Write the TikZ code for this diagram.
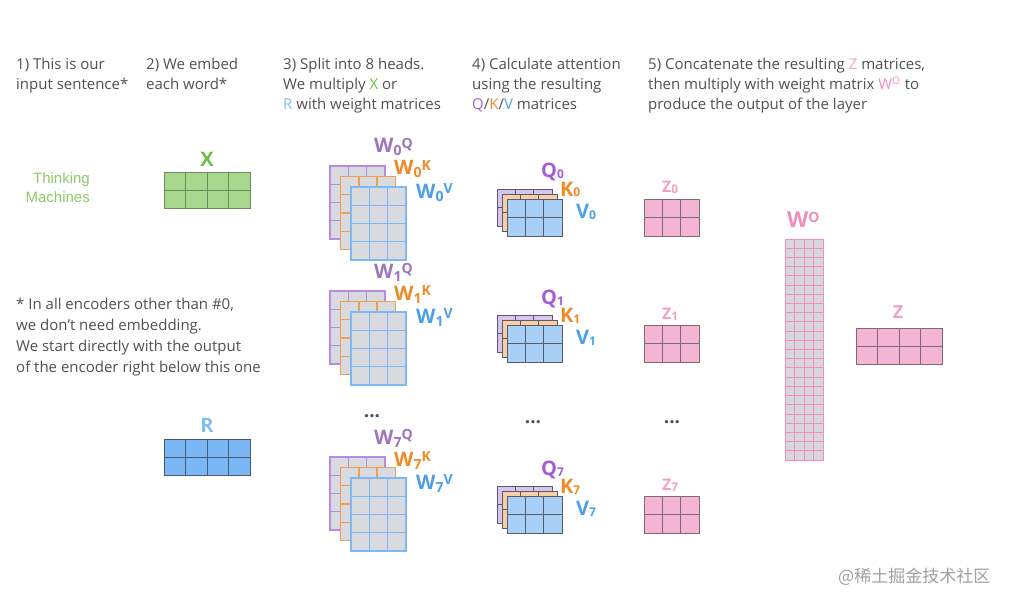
\documentclass[tikz,border=0pt]{standalone}
\usepackage{fontspec}
\setmainfont{Open Sans}
\newfontfamily\helv{Liberation Sans}
\newfontfamily\cjk{Noto Sans CJK SC}
\definecolor{textgray}{HTML}{505050}
\definecolor{xgreen}{HTML}{6DBE45}
\definecolor{thinkgreen}{HTML}{8CCB68}
\definecolor{xfill}{HTML}{A6D78C}
\definecolor{xline}{HTML}{6E8A60}
\definecolor{rfill}{HTML}{7AB6F4}
\definecolor{rline}{HTML}{4A5A70}
\definecolor{rlab}{HTML}{82BDF0}
\definecolor{wfill}{HTML}{D8DADF}
\definecolor{wpur}{HTML}{B88AE0}
\definecolor{worg}{HTML}{F0A04C}
\definecolor{wblu}{HTML}{7DB8F2}
\definecolor{qpur}{HTML}{A25ED8}
\definecolor{korg}{HTML}{F08A24}
\definecolor{vblu}{HTML}{4B9FEA}
\definecolor{qfillp}{HTML}{D8C5EF}
\definecolor{qfillo}{HTML}{F7CFA3}
\definecolor{qfillb}{HTML}{A8D0F6}
\definecolor{qline}{HTML}{5A5A6A}
\definecolor{zfill}{HTML}{F3B5D3}
\definecolor{zline}{HTML}{7A6A72}
\definecolor{zlab}{HTML}{F0A2C6}
\definecolor{wolab}{HTML}{EE8EBF}
\definecolor{woline}{HTML}{F28DBF}
\definecolor{wofill}{HTML}{D8D8DC}
\tikzset{
  txt/.style={anchor=base west, inner sep=0pt, text=textgray, font=\fontsize{15}{20}\selectfont},
  lbl/.style={anchor=base west, inner sep=0pt, font=\bfseries\fontsize{20}{20}\selectfont},
  zlbl/.style={anchor=base west, inner sep=0pt, text=zlab, font=\bfseries\fontsize{16}{16}\selectfont},
  dotsn/.style={inner sep=0pt, text=textgray, font=\bfseries\fontsize{19}{19}\selectfont},
  mat/.style={inner sep=0pt, outer sep=0pt},
  wpl/.style={draw=wpur, line width=1.4pt},
  wol/.style={draw=worg, line width=1.4pt},
  wbl/.style={draw=wblu, line width=1.4pt},
  dkl/.style={draw=qline, line width=0.8pt},
  xl/.style={draw=xline, line width=0.8pt},
  rl/.style={draw=rline, line width=0.8pt},
  zl/.style={draw=zline, line width=0.8pt},
  wol2/.style={draw=woline, line width=0.9pt},
}
% name, x, y, w, h, cols, rows, fill, line style
\newcommand\mtx[9]{%
  \node[mat, fill=#8, #9, minimum width=#4pt, minimum height=#5pt] (#1) at ({#2+#4/2},{#3+#5/2}) {};
  \foreach \k in {1,...,#6} {\ifnum\k<#6\relax \draw[#9] ({#2+\k*#4/#6},#3) -- ++(0,#5);\fi}
  \foreach \k in {1,...,#7} {\ifnum\k<#7\relax \draw[#9] (#2,{#3+\k*#5/#7}) -- ++(#4,0);\fi}
}
\newcommand\wsub[1]{\raisebox{-3pt}{\fontsize{14}{14}\selectfont #1}}
\newcommand\wsup[1]{\raisebox{4.5pt}{\fontsize{14}{14}\selectfont #1}}
\newcommand\qsub[1]{\raisebox{-1pt}{\fontsize{12}{12}\selectfont #1}}
\begin{document}
\begin{tikzpicture}[x=1pt,y=-1pt]
\useasboundingbox (0,0) rectangle (1016,604);
% headers
\node[txt] (h1) at (16,70) {\begin{tabular}[t]{@{}l@{}}1) This is our\\input sentence*\end{tabular}};
\node[txt] (h2) at (146,70) {\begin{tabular}[t]{@{}l@{}}2) We embed\\each word*\end{tabular}};
\node[txt] (h3) at (283,70) {\begin{tabular}[t]{@{}l@{}}3) Split into 8 heads.\\We multiply \textcolor{xgreen}{X} or\\\textcolor{rlab}{R} with weight matrices\end{tabular}};
\node[txt] (h4) at (472,70) {\begin{tabular}[t]{@{}l@{}}4) Calculate attention\\using the resulting\\\textcolor{qpur}{Q}/\textcolor{korg}{K}/\textcolor{vblu}{V} matrices\end{tabular}};
\node[txt] (h5) at (648,70) {\begin{tabular}[t]{@{}l@{}}5) Concatenate the resulting \textcolor{zlab}{Z} matrices,\\then multiply with weight matrix \textcolor{wolab}{W\textsuperscript{O}} to\\produce the output of the layer\end{tabular}};
% input sentence
\node[anchor=base east, inner sep=0pt, text=thinkgreen, font=\helv\fontsize{15}{19}\selectfont] (think) at (90,183) {\begin{tabular}[t]{@{}r@{}}Thinking\\Machines\end{tabular}};
% footnote
\node[txt, font=\fontsize{15}{21.3}\selectfont] (note) at (16,309) {\begin{tabular}[t]{@{}l@{}}* In all encoders other than \#0,\\we don’t need embedding.\\We start directly with the output\\of the encoder right below this one\end{tabular}};
% X and R
\node[lbl, anchor=base, text=xgreen, font=\bfseries\fontsize{20}{20}\selectfont] (xlab) at (207,167) {X};
\mtx{xm}{164}{172}{86}{36}{4}{2}{xfill}{xl}
\node[lbl, anchor=base, text=rlab, font=\bfseries\fontsize{20}{20}\selectfont] (rlabn) at (207,432) {R};
\mtx{rm}{164}{439}{86}{36}{4}{2}{rfill}{rl}
% W stacks
\foreach \n/\dy in {0/0,1/125,7/291} {
  \mtx{wq\n}{330}{166+\dy}{55}{73}{3}{4}{wfill}{wpl}
  \mtx{wk\n}{340.5}{176.5+\dy}{55}{73}{3}{4}{wfill}{wol}
  \mtx{wv\n}{351}{187+\dy}{55}{73}{3}{4}{wfill}{wbl}
  \node[lbl, text=wpur!85!black] (lwq\n) at (374,153+\dy) {W\wsub{\n}\wsup{Q}};
  \node[lbl, text=korg] (lwk\n) at (394,175+\dy) {W\wsub{\n}\wsup{K}};
  \node[lbl, text=vblu] (lwv\n) at (416,198+\dy) {W\wsub{\n}\wsup{V}};
}
% QKV stacks and Z
\foreach \n/\dy in {0/0,1/126,7/297} {
  \mtx{q\n}{497}{189+\dy}{55}{37}{3}{2}{qfillp}{dkl}
  \mtx{k\n}{502}{194+\dy}{55}{37}{3}{2}{qfillo}{dkl}
  \mtx{v\n}{507}{199+\dy}{55}{37}{3}{2}{qfillb}{dkl}
  \node[lbl, text=qpur] (lq\n) at (541,178+\dy) {Q\qsub{\n}};
  \node[lbl, text=korg] (lk\n) at (560,196+\dy) {K\qsub{\n}};
  \node[lbl, text=vblu] (lv\n) at (576,218+\dy) {V\qsub{\n}};
  \mtx{z\n}{644}{199+\dy}{55}{37}{3}{2}{zfill}{zl}
  \node[zlbl] (lz\n) at (662,193+\dy) {Z\qsub{\n}};
}
% dots
\node[dotsn] (d1) at (372,416) {...};
\node[dotsn] (d2) at (533,422) {...};
\node[dotsn] (d3) at (672,422) {...};
% W^O
\node[lbl, text=wolab, font=\bfseries\fontsize{22}{22}\selectfont] (lwo) at (787,227) {W\wsup{O}};
\mtx{wo}{785}{239}{38}{221}{4}{24}{wofill}{wol2}
% final Z
\node[zlbl, anchor=base, font=\bfseries\fontsize{18}{18}\selectfont] (lzf) at (898,318) {Z};
\mtx{zf}{856}{328}{86}{36}{4}{2}{zfill}{zl}
% watermark
\node[anchor=base west, inner sep=0pt, text=gray!75, font=\cjk\fontsize{17}{17}\selectfont] (wm) at (838,582) {@稀土掘金技术社区};
\end{tikzpicture}
\end{document}
